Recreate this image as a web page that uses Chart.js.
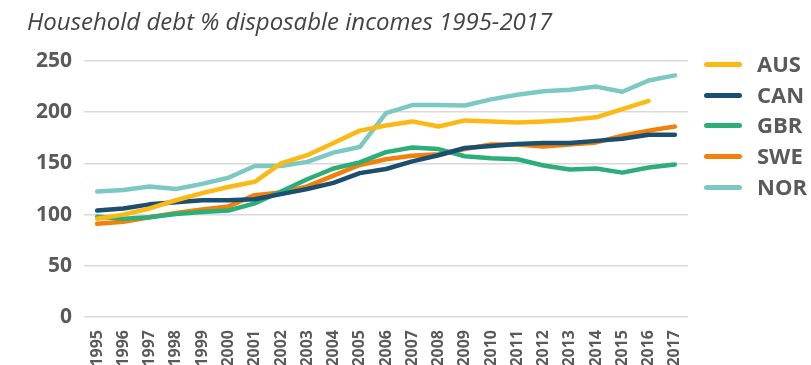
<!DOCTYPE html>
<html>
<head>
<meta charset="utf-8">
<script src="https://cdn.jsdelivr.net/npm/chart.js@4/dist/chart.umd.min.js"></script>
<style>
  html, body { margin: 0; padding: 0; background: #fff; }
  #wrap { position: relative; width: 811px; height: 365px; overflow: hidden; }
  #title {
    position: absolute; left: 27px; top: 5px;
    font-family: "Open Sans", sans-serif; font-style: italic; font-size: 24px;
    color: #444; white-space: nowrap; line-height: 32px;
  }
  #legend { position: absolute; left: 704px; top: 50px; }
  .item { position: absolute; left: 0; height: 30px; white-space: nowrap; }
  .swatch { position: absolute; left: 0; width: 38px; height: 5px; border-radius: 3px; }
  .label {
    position: absolute; left: 53px;
    font-family: "Open Sans", sans-serif; font-weight: bold; font-size: 22px; color: #5a5a5a;
  }
  canvas { position: absolute; left: 0; top: 0; }
</style>
</head>
<body>
<div id="wrap">
  <canvas id="chart" width="811" height="365"></canvas>
  <div id="title">Household debt % disposable incomes 1995-2017</div>
  <div id="legend"></div>
</div>
<script>
// Household debt as % of disposable income, by country
const years = ['1995','1996','1997','1998','1999','2000','2001','2002','2003','2004','2005',
               '2006','2007','2008','2009','2010','2011','2012','2013','2014','2015','2016','2017'];

const aus = [96, 100, 106, 114, 121, 127, 132, 150, 158, 170, 182, 187, 191, 186, 192, 191, 190, 191, 192.5, 195, 203, 211, null];
const can = [104, 106, 110, 112, 114, 114, 115, 120, 125, 131, 140.5, 144.5, 152, 158, 165, 167, 169, 170, 170, 172, 174, 178, 178];
const gbr = [98, 96, 97.5, 100.5, 102.5, 104, 111, 122.5, 134.5, 145, 151, 161, 165.5, 164, 157, 155, 154, 148, 144, 145, 141, 146, 149];
const swe = [91, 93, 97.5, 101.5, 105, 108, 119, 121.5, 127.5, 138, 148.5, 154, 157.5, 159, 164, 168.5, 168.5, 166.5, 168.5, 170.5, 177, 182, 186];
const nor = [122.5, 124, 127.5, 125, 130, 136, 147.5, 147.5, 151.5, 160.5, 166, 199, 207, 207, 206.5, 212.5, 217, 220.5, 222, 225, 220, 231, 236];

const yTicks = [0, 50, 100, 150, 200, 250];

const series = [
  { label: 'AUS', data: aus, color: '#FDB913' },
  { label: 'CAN', data: can, color: '#1B4F72' },
  { label: 'GBR', data: gbr, color: '#2BAE7A' },
  { label: 'SWE', data: swe, color: '#F28009' },
  { label: 'NOR', data: nor, color: '#7CC9C3' }
];

const chart = new Chart(document.getElementById('chart'), {
  type: 'line',
  data: {
    labels: years,
    datasets: series.map(s => ({
      label: s.label,
      data: s.data,
      borderColor: s.color,
      backgroundColor: s.color,
      borderWidth: 4.5,
      borderCapStyle: 'round',
      borderJoinStyle: 'round',
      pointRadius: 0,
      tension: 0,
      fill: false
    }))
  },
  options: {
    responsive: false,
    animation: false,
    layout: { padding: { left: 0, top: 61, right: 123, bottom: 0 } },
    plugins: { legend: { display: false }, tooltip: { enabled: false } },
    scales: {
      x: {
        offset: true,
        grid: { display: false },
        border: { display: false },
        ticks: {
          minRotation: 90, maxRotation: 90, autoSkip: false, padding: 5,
          color: '#5a5a5a',
          font: { family: 'Open Sans', weight: 'bold', size: 16 }
        },
        afterFit: s => { s.height = 48; }
      },
      y: {
        min: 0, max: 250,
        afterBuildTicks: s => { s.ticks = yTicks.map(v => ({ value: v })); },
        grid: { color: '#d9d9d9', lineWidth: 1.5, drawTicks: false },
        border: { display: false },
        ticks: {
          padding: 12, color: '#5a5a5a',
          font: { family: 'Open Sans', weight: 'bold', size: 21 }
        },
        afterFit: s => { s.width = 84; }
      }
    }
  }
});

// Legend rows built from the same series list
const legend = document.getElementById('legend');
series.forEach((s, i) => {
  const item = document.createElement('div');
  item.className = 'item';
  item.style.top = (i * 30.7) + 'px';
  const sw = document.createElement('div');
  sw.className = 'swatch';
  sw.style.background = s.color;
  sw.style.top = '12px';
  const lb = document.createElement('div');
  lb.className = 'label';
  lb.style.top = '-2px';
  lb.textContent = s.label;
  item.appendChild(sw);
  item.appendChild(lb);
  legend.appendChild(item);
});
</script>
</body>
</html>
